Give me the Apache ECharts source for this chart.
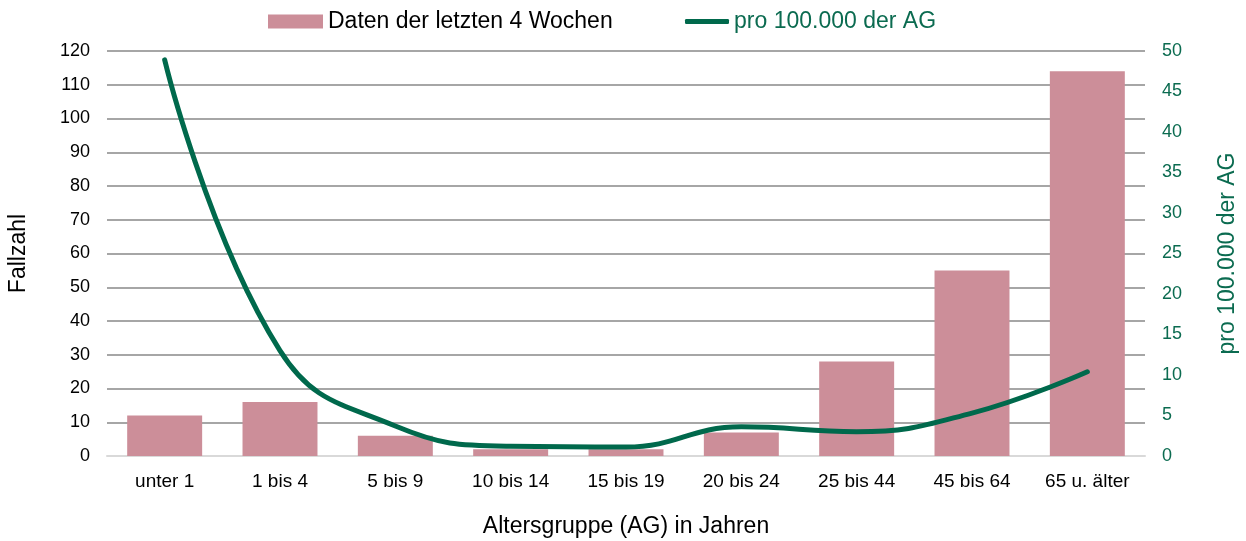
<!DOCTYPE html>
<html><head><meta charset="utf-8">
<script src="https://cdn.jsdelivr.net/npm/echarts@6/dist/echarts.min.js"></script>
<style>html,body{margin:0;padding:0;background:#fff}#c{width:1246px;height:541px}</style>
</head><body><div id="c"></div>
<script>
const categories = ["unter 1","1 bis 4","5 bis 9","10 bis 14","15 bis 19","20 bis 24","25 bis 44","45 bis 64","65 u. älter"];
const cases = [12,16,6,2,2,7,28,55,114];
const per100k = [48.9,13.0,3.7,1.2,1.1,3.6,3.0,5.3,10.4];
const barName = "Daten der letzten 4 Wochen";
const lineName = "pro 100.000 der AG";
const green = "#00694C";
const greenText = "#0B6B50";
const font = "'Liberation Sans', Arial, sans-serif";
const chart = echarts.init(document.getElementById('c'));
chart.setOption({
  animation:false,
  textStyle:{fontFamily:font},
  legend:[
    {top:5, left:263, itemWidth:55, itemHeight:14,
     textStyle:{fontSize:23, color:'#000', fontFamily:font},
     data:[{name:barName, icon:'rect'}]},
    {top:5, left:680, itemWidth:44, itemHeight:5,
     textStyle:{fontSize:23, color:greenText, fontFamily:font},
     data:[{name:lineName, icon:'roundRect', itemStyle:{color:green}}]}
  ],
  grid:{left:107, right:101, top:51, bottom:85, outerBoundsMode:'none', containLabel:false},
  xAxis:{
    type:'category', data:categories,
    axisLine:{lineStyle:{color:'#D9D9D9', width:2}},
    axisTick:{show:false},
    axisLabel:{fontSize:19, color:'#000', margin:16},
    name:"Altersgruppe (AG) in Jahren", nameLocation:'middle', nameGap:59,
    nameTextStyle:{fontSize:23, color:'#000'}
  },
  yAxis:[
    {type:'value', min:0, max:120, interval:10,
     axisLabel:{fontSize:18, color:'#000', margin:17},
     splitLine:{lineStyle:{color:'#A6A6A6', width:2}},
     name:"Fallzahl", nameLocation:'middle', nameGap:77, nameRotate:90,
     nameTextStyle:{fontSize:23, color:'#000'}},
    {type:'value', min:0, max:50, interval:5, position:'right',
     axisLabel:{fontSize:18, color:greenText, margin:17},
     splitLine:{show:false},
     name:"pro 100.000 der AG", nameLocation:'middle', nameGap:71, nameRotate:90,
     nameTextStyle:{fontSize:23, color:greenText}}
  ],
  series:[
    {name:barName, type:'bar', data:cases, yAxisIndex:0, barCategoryGap:'35%',
     itemStyle:{color:'#CC8E99'}},
    {name:lineName, type:'line', data:per100k, yAxisIndex:1, smooth:0.45,
     showSymbol:false, symbol:'none',
     lineStyle:{color:green, width:5, cap:'round'}, itemStyle:{color:green}}
  ]
});
</script></body></html>
